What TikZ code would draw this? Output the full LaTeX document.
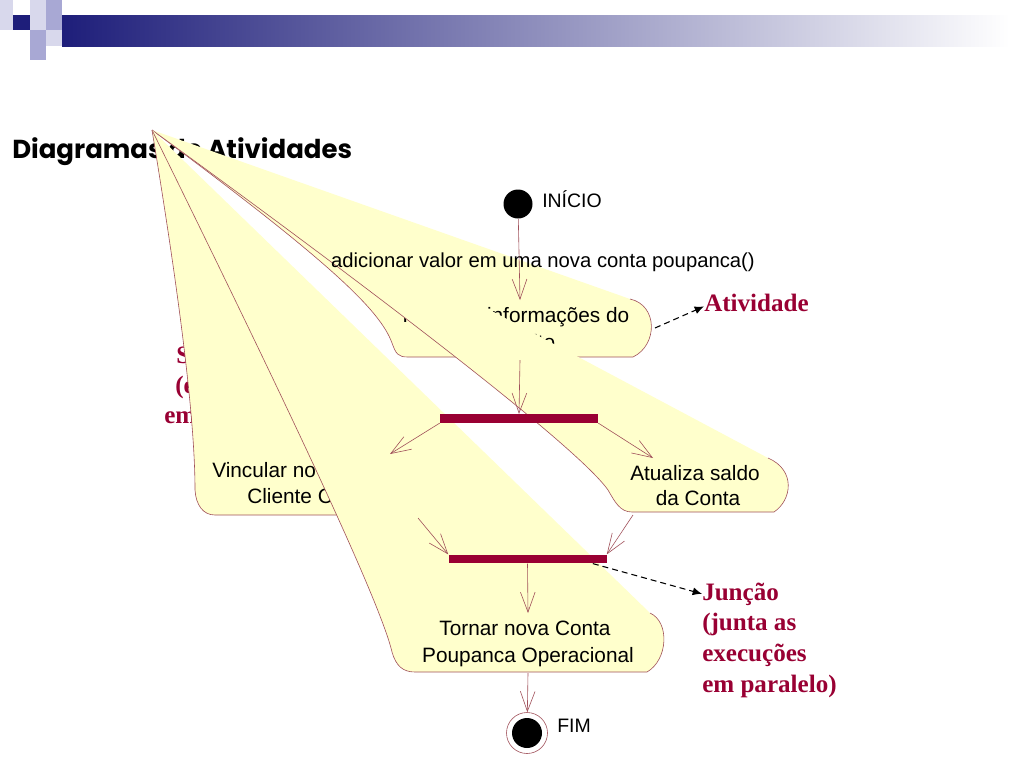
\documentclass[tikz,border=0pt]{standalone}
\usepackage{fontspec}
\setmainfont{Liberation Sans}
\newfontfamily\timesbf{Liberation Serif}
\newfontfamily\comicfont{Poppins}
\usetikzlibrary{arrows.meta,positioning}

\definecolor{actyellow}{HTML}{FFFFCC}
\definecolor{actbrown}{HTML}{A0505A}
\definecolor{wine}{HTML}{990033}
\definecolor{navyblue}{HTML}{1E1E7A}
\definecolor{lilac}{HTML}{A8A8D4}
\definecolor{palelilac}{HTML}{D8D8EC}

\tikzset{
  actfill/.style={fill=actyellow},
  actedge/.style={draw=actbrown, line width=0.45pt},
  flow/.style={draw=actbrown, line width=0.45pt, -{Straight Barb[length=15pt,width=11pt]}},
  pointer/.style={draw=black, line width=0.8pt, dash pattern=on 4.5pt off 3pt, -{Latex[length=7pt,width=6pt]}},
  syncbar/.style={fill=wine, inner sep=0pt, minimum width=118.5pt, minimum height=6.5pt},
  acttext/.style={font=\fontsize{15.6}{19}\selectfont, inner sep=0pt},
  smalltext/.style={font=\fontsize{14.6}{18}\selectfont, inner sep=0pt},
  redtext/.style={text=wine, font=\timesbf\bfseries\fontsize{18.8}{23}\selectfont, inner sep=0pt},
}

% fill the whole outline, stroke all but its first side
\newcommand{\actshape}[2]{%
  \fill[actfill] (p) -- #1 #2 -- cycle;
  \draw[actedge] #1 #2;}

\begin{document}
\begin{tikzpicture}[x=0.75pt,y=-0.75pt]
\useasboundingbox[fill=white] (0,0) rectangle (1024,768);

% slide header
\shade[left color=navyblue, right color=white] (62,15) rectangle (1010,46);
\fill[palelilac] (0,0) rectangle (13,30);
\fill[navyblue] (13,15) rectangle (30,30);
\fill[palelilac] (30,0) rectangle (46,15);
\fill[lilac] (46,0) rectangle (62,15);
\fill[palelilac] (30,15) rectangle (46,30);
\fill[lilac] (46,15) rectangle (62,30);
\fill[lilac] (30,30) rectangle (46,60);
\fill[palelilac] (46,30) rectangle (62,46);

\node[anchor=base west, inner sep=0pt, font=\comicfont\bfseries\fontsize{19.5}{24}\selectfont] (title) at (12,158) {Diagramas de Atividades};

% label on the left, mostly hidden
\node[redtext, anchor=base west] (sep1) at (176,363) {S};
\node[redtext, anchor=base west] (sep2) at (175,393) {(e};
\node[redtext, anchor=base west] (sep3) at (164,423) {em};

\coordinate (p) at (152,130);

% activity: receber
\actshape{(630,299)}{.. controls (658,305) and (658,345) .. (633,357) -- (408,357)
  .. controls (398,357) and (396,354) .. (392,343) .. controls (380,310) and (330,262) .. (p)}
\node[acttext, anchor=base] (rec1) at (516,322) {Receber informações do};
\node[acttext, anchor=base] (rec2) at (516,349) {depósito};

% activity: vincular
\actshape{(440,455)}{.. controls (462,462) and (462,508) .. (440,515) -- (215,515)
  .. controls (203,515) and (196,505) .. (195,490) .. controls (195,420) and (180,300) .. (p)}
\node[acttext, anchor=base west] (vin1) at (212,477) {Vincular no};
\node[acttext, anchor=base west] (vin2) at (247,503) {Cliente C};

% activity: atualiza
\actshape{(768,458)}{.. controls (796,470) and (792,500) .. (774,512) -- (632,512)
  .. controls (620,512) and (615,502) .. (608,490) .. controls (580,450) and (400,310) .. (p)}
\node[acttext, anchor=base] (atu1) at (695,480) {Atualiza saldo};
\node[acttext, anchor=base] (atu2) at (698,505) {da Conta};

% activity: tornar
\actshape{(650,613)}{.. controls (670,622) and (668,660) .. (647,672) -- (415,672)
  .. controls (403,672) and (396,666) .. (392,652) .. controls (380,600) and (280,390) .. (p)}
\node[acttext, anchor=base] (tor1) at (525,635) {Tornar nova Conta};
\node[acttext, anchor=base] (tor2) at (528,662) {Poupanca Operacional};

% start, bars, end
\node[circle, fill=black, inner sep=0pt, minimum size=21.75pt] (init) at (518,204) {};
\node[smalltext, anchor=base west] (initlbl) at (542,207) {INÍCIO};
\node[font=\fontsize{15.2}{18}\selectfont, inner sep=0pt, anchor=base] (event) at (543,267) {adicionar valor em uma nova conta poupanca()};
\node[syncbar] (fork) at (519,418.5) {};
\node[syncbar] (join) at (527.5,559) {};
\node[circle, draw=actbrown, line width=0.45pt, inner sep=0pt, minimum size=30.75pt] (fim) at (527,733) {};
\node[circle, fill=black, inner sep=0pt, minimum size=22.5pt] (fimdot) at (fim) {};
\node[smalltext, anchor=base west] (fimlbl) at (557,732) {FIM};

\coordinate (recin) at (520,300);
\coordinate (recout) at (520,360);
\coordinate (vinin) at (390,454);
\coordinate (vinout) at (418,518);
\coordinate (atuin) at (653,458);
\coordinate (atuout) at (633,515);
\coordinate (torin) at (528,613);
\coordinate (torout) at (528,673);
\coordinate (recside) at (655,328);

\draw[flow] (init) -- (recin);
\draw[flow] (recout) -- (fork.north);
\draw[flow] (fork.south west) -- (vinin);
\draw[flow] (fork.south east) -- (atuin);
\draw[flow] (vinout) -- (join.north west);
\draw[flow] (atuout) -- (join.north east);
\draw[flow] (join.south) -- (torin);
\draw[flow] (torout) -- (fim);

% notes on the right
\node[redtext, anchor=base west] (ativ) at (704,311) {Atividade};
\foreach \txt [count=\i] in {{Junção},{(junta as},{execuções},{em paralelo)}}
  \node[redtext, anchor=base west] (jun\i) at (702,{600+30.7*(\i-1)}) {\txt};

\draw[pointer] (recside) -- ([yshift=-3pt]ativ.west);
\draw[pointer] ([xshift=49pt]join.south) -- (jun1.west);
\end{tikzpicture}
\end{document}
